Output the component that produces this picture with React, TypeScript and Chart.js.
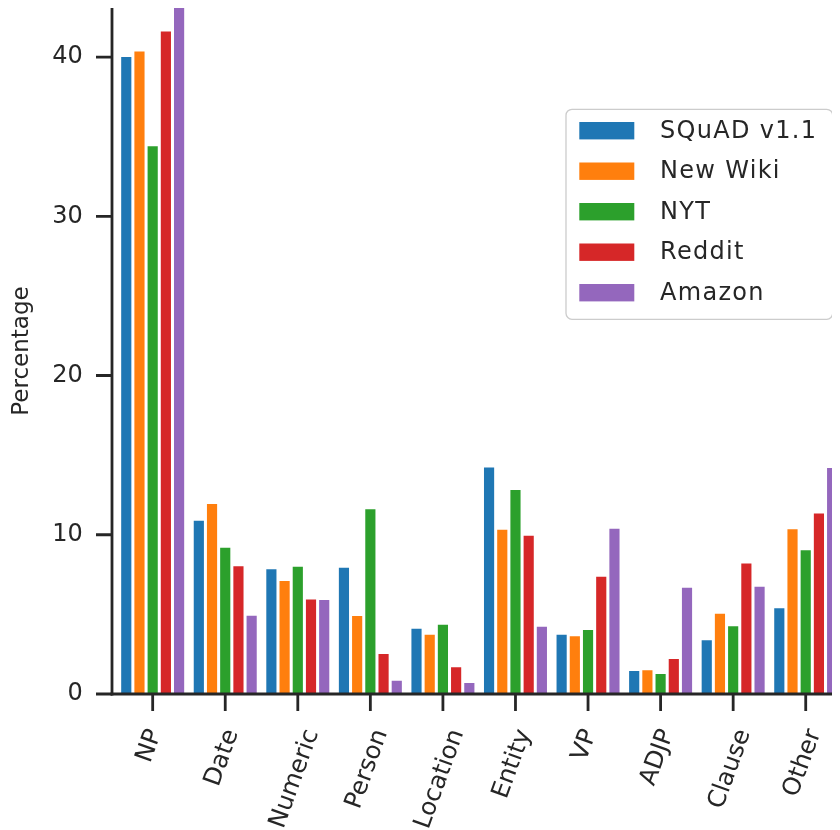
import React, { useEffect, useRef } from "react";
import { Chart, registerables } from "chart.js";
Chart.register(...registerables);

const categories = ["NP", "Date", "Numeric", "Person", "Location", "Entity", "VP", "ADJP", "Clause", "Other"];
const seriesNames = ["SQuAD v1.1", "New Wiki", "NYT", "Reddit", "Amazon"];
const squad = [40.0, 10.88, 7.83, 7.93, 4.1, 14.23, 3.72, 1.44, 3.37, 5.38];
const newWiki = [40.35, 11.93, 7.09, 4.9, 3.72, 10.31, 3.62, 1.49, 5.04, 10.34];
const nyt = [34.4, 9.18, 7.99, 11.6, 4.35, 12.81, 4.02, 1.26, 4.25, 9.02];
const reddit = [41.6, 8.02, 5.94, 2.51, 1.68, 9.94, 7.36, 2.2, 8.2, 11.34];
const amazon = [43.1, 4.92, 5.9, 0.83, 0.69, 4.23, 10.38, 6.67, 6.74, 14.2];
const colors = ["#1f77b4", "#ff7f0e", "#2ca02c", "#d62728", "#9467bd"];
const yTicks = [0, 10, 20, 30, 40];
const yMax = 43.08;
const yTitle = "Percentage";

const FONT = "'DejaVu Sans', sans-serif";
const INK = "#262626";

const decor = {
  id: "decor",
  afterDatasetsDraw(chart: any) {
    const { ctx, chartArea, scales } = chart;
    const x = scales.x;
    const y = scales.y;
    const spineX = chartArea.left - 4.4;
    ctx.save();
    ctx.strokeStyle = INK;
    ctx.lineWidth = 2.8;
    ctx.lineCap = "butt";
    ctx.beginPath();
    ctx.moveTo(spineX, chartArea.top - 1);
    ctx.lineTo(spineX, chartArea.bottom + 1.4);
    ctx.stroke();
    ctx.beginPath();
    ctx.moveTo(spineX - 1.4, chartArea.bottom);
    ctx.lineTo(chart.width + 5, chartArea.bottom);
    ctx.stroke();
    ctx.beginPath();
    yTicks.forEach((v) => {
      const py = y.getPixelForValue(v);
      ctx.moveTo(spineX - 16, py);
      ctx.lineTo(spineX, py);
    });
    categories.forEach((_, i) => {
      const px = x.getPixelForValue(i);
      ctx.moveTo(px, chartArea.bottom);
      ctx.lineTo(px, chartArea.bottom + 17);
    });
    ctx.stroke();

    // x tick labels (rotated, bbox centred under tick)
    const theta = (70 * Math.PI) / 180;
    ctx.font = `24.5px ${FONT}`;
    ctx.fillStyle = INK;
    ctx.textAlign = "center";
    ctx.textBaseline = "middle";
    const h = 20;
    const top0 = chartArea.bottom + 33;
    categories.forEach((lab, i) => {
      const px = x.getPixelForValue(i);
      const w = ctx.measureText(lab).width;
      const H = w * Math.sin(theta) + h * Math.cos(theta);
      ctx.save();
      ctx.translate(px - 3, top0 + H / 2);
      ctx.rotate(-theta);
      ctx.fillText(lab, 0, 0);
      ctx.restore();
    });

    // y title
    ctx.save();
    ctx.translate(14, (chartArea.top + chartArea.bottom) / 2);
    ctx.rotate(-Math.PI / 2);
    ctx.font = `23px ${FONT}`;
    ctx.fillText(yTitle, 0, 0);
    ctx.restore();

    // legend
    const lx = 558, ly = 101.3, lw = 266.7, lh = 210;
    ctx.beginPath();
    ctx.roundRect(lx, ly, lw, lh, 6);
    ctx.fillStyle = "rgba(255,255,255,0.85)";
    ctx.fill();
    ctx.strokeStyle = "#cccccc";
    ctx.lineWidth = 1.3;
    ctx.stroke();
    ctx.font = `24px ${FONT}`;
    ctx.textAlign = "left";
    ctx.textBaseline = "middle";
    (ctx as any).letterSpacing = "1.3px";
    seriesNames.forEach((name, i) => {
      const cy = 122.7 + i * 40.5;
      ctx.fillStyle = colors[i];
      ctx.fillRect(571.3, cy - 8.7, 55, 17.4);
      ctx.fillStyle = INK;
      ctx.fillText(name, 652, cy + 1);
    });
    ctx.restore();
  },
};

export default function App() {
  const ref = useRef<HTMLCanvasElement>(null);
  useEffect(() => {
    if (!ref.current) return;
    const series = [squad, newWiki, nyt, reddit, amazon];
    const chart = new Chart(ref.current, {
      type: "bar",
      data: {
        labels: categories,
        datasets: series.map((d, i) => ({
          label: seriesNames[i],
          data: d,
          backgroundColor: colors[i],
          borderWidth: 0,
          categoryPercentage: 0.91,
          barPercentage: 0.77,
        })),
      },
      options: {
        responsive: false,
        animation: false,
        layout: { padding: 0 },
        plugins: { legend: { display: false }, tooltip: { enabled: false } },
        scales: {
          x: {
            type: "category",
            offset: true,
            grid: { display: false, drawTicks: false },
            border: { display: false },
            ticks: { display: false },
            afterFit: (s: any) => {
              s.height = 136;
              s.paddingLeft = 0;
              s.paddingRight = 0;
            },
          },
          y: {
            min: 0,
            max: yMax,
            grid: { display: false, drawTicks: false },
            border: { display: false },
            ticks: {
              stepSize: 10,
              padding: 33.7,
              color: INK,
              font: { family: FONT, size: 24 },
            },
            afterBuildTicks: (s: any) => {
              s.ticks = s.ticks.filter((t: any) => yTicks.includes(t.value));
            },
            afterFit: (s: any) => {
              s.width = 108.4;
              s.paddingTop = 0;
              s.paddingBottom = 0;
            },
          },
        },
      },
      plugins: [decor],
    });
    return () => chart.destroy();
  }, []);
  return (
    <div style={{ width: 832, height: 822, overflow: "hidden" }}>
      <canvas ref={ref} width={834} height={822} style={{ display: "block" }} />
    </div>
  );
}
